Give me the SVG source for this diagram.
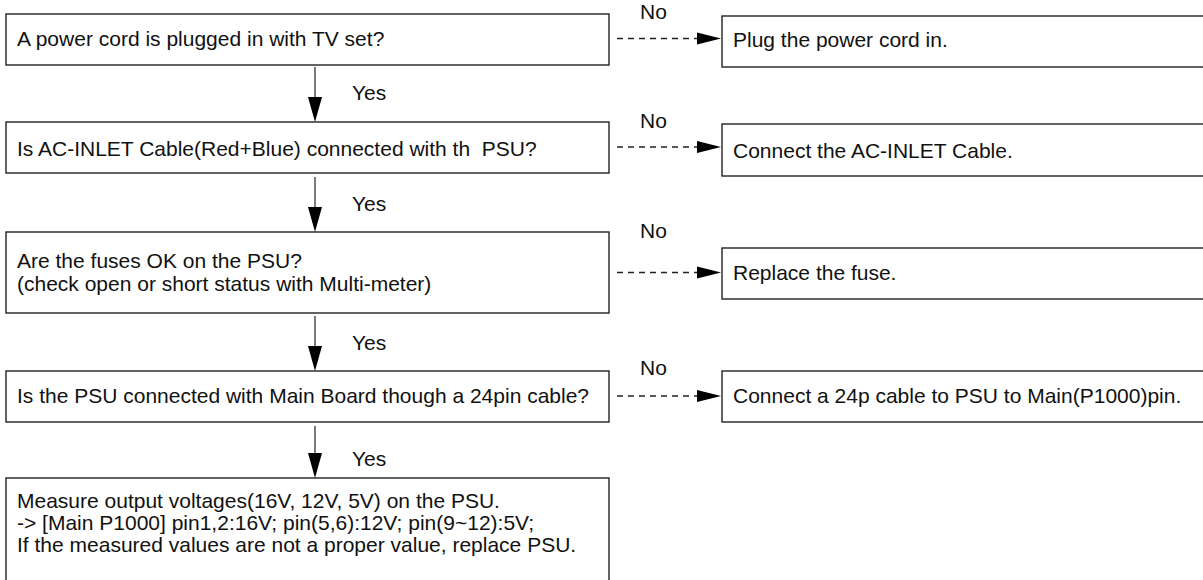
<svg xmlns="http://www.w3.org/2000/svg" width="1203" height="580" viewBox="0 0 1203 580">
  <style>
    .box { fill: #ffffff; stroke: #222222; stroke-width: 1.4; }
    .txt { font-family: "Liberation Sans", Arial, Helvetica, sans-serif; font-size: 21px; fill: #111111; }
    .flow { stroke: #333333; stroke-width: 1.3; fill: none; }
    .dash { stroke: #222222; stroke-width: 1.3; fill: none; stroke-dasharray: 6 5; }
    .head { fill: #000000; stroke: none; }
  </style>
  <defs>
    <!-- filled arrowheads, tip at the origin -->
    <path id="headDown" d="M -7 -25 L 7 -25 L 0 0 Z"/>
    <path id="headRight" d="M -24 -6 L -24 6 L 0 0 Z"/>
  </defs>
  <rect width="1203" height="580" fill="#ffffff"/>

  <!-- decision steps (left column) -->
  <g id="q1">
    <rect class="box" x="6" y="14" width="603" height="51"/>
    <text class="txt" x="17" y="46">A power cord is plugged in with TV set?</text>
  </g>
  <g id="q2">
    <rect class="box" x="6" y="122" width="603" height="51"/>
    <text class="txt" x="17" y="156" xml:space="preserve">Is AC-INLET Cable(Red+Blue) connected with th  PSU?</text>
  </g>
  <g id="q3">
    <rect class="box" x="6" y="232" width="603" height="81"/>
    <text class="txt" x="17" y="268">Are the fuses OK on the PSU?</text>
    <text class="txt" x="17" y="291">(check open or short status with Multi-meter)</text>
  </g>
  <g id="q4">
    <rect class="box" x="6" y="371" width="603" height="51"/>
    <text class="txt" x="17" y="403">Is the PSU connected with Main Board though a 24pin cable?</text>
  </g>
  <g id="measure">
    <rect class="box" x="6" y="478" width="603" height="110"/>
    <text class="txt" x="17" y="508">Measure output voltages(16V, 12V, 5V) on the PSU.</text>
    <text class="txt" x="17" y="530">-&gt; [Main P1000] pin1,2:16V; pin(5,6):12V; pin(9~12):5V;</text>
    <text class="txt" x="17" y="552">If the measured values are not a proper value, replace PSU.</text>
  </g>

  <!-- remedies (right column) -->
  <g id="fix1">
    <rect class="box" x="722" y="16" width="500" height="51"/>
    <text class="txt" x="733" y="47">Plug the power cord in.</text>
  </g>
  <g id="fix2">
    <rect class="box" x="722" y="124" width="500" height="52"/>
    <text class="txt" x="733" y="158">Connect the AC-INLET Cable.</text>
  </g>
  <g id="fix3">
    <rect class="box" x="722" y="248" width="500" height="51"/>
    <text class="txt" x="733" y="280">Replace the fuse.</text>
  </g>
  <g id="fix4">
    <rect class="box" x="722" y="371" width="500" height="51"/>
    <text class="txt" x="733" y="403">Connect a 24p cable to PSU to Main(P1000)pin.</text>
  </g>

  <!-- connectors -->
  <g id="connectors">
    <!-- Yes: straight down -->
    <line class="flow" x1="315" y1="67" x2="315" y2="100"/>
    <use href="#headDown" class="head" x="315" y="122"/>
    <text class="txt" x="352" y="100">Yes</text>

    <line class="flow" x1="315" y1="177" x2="315" y2="210"/>
    <use href="#headDown" class="head" x="315" y="232"/>
    <text class="txt" x="352" y="211">Yes</text>

    <line class="flow" x1="315" y1="316" x2="315" y2="349"/>
    <use href="#headDown" class="head" x="315" y="371"/>
    <text class="txt" x="352" y="350">Yes</text>

    <line class="flow" x1="315" y1="426" x2="315" y2="456"/>
    <use href="#headDown" class="head" x="315" y="478"/>
    <text class="txt" x="352" y="466">Yes</text>

    <!-- No: dashed to the right -->
    <line class="dash" x1="617" y1="38.5" x2="697" y2="38.5"/>
    <use href="#headRight" class="head" x="721" y="38.5"/>
    <text class="txt" x="640" y="19">No</text>

    <line class="dash" x1="617" y1="147" x2="697" y2="147"/>
    <use href="#headRight" class="head" x="721" y="147"/>
    <text class="txt" x="640" y="128">No</text>

    <line class="dash" x1="617" y1="272.5" x2="697" y2="272.5"/>
    <use href="#headRight" class="head" x="721" y="272.5"/>
    <text class="txt" x="640" y="238">No</text>

    <line class="dash" x1="617" y1="396" x2="697" y2="396"/>
    <use href="#headRight" class="head" x="721" y="396"/>
    <text class="txt" x="640" y="375">No</text>
  </g>
</svg>
